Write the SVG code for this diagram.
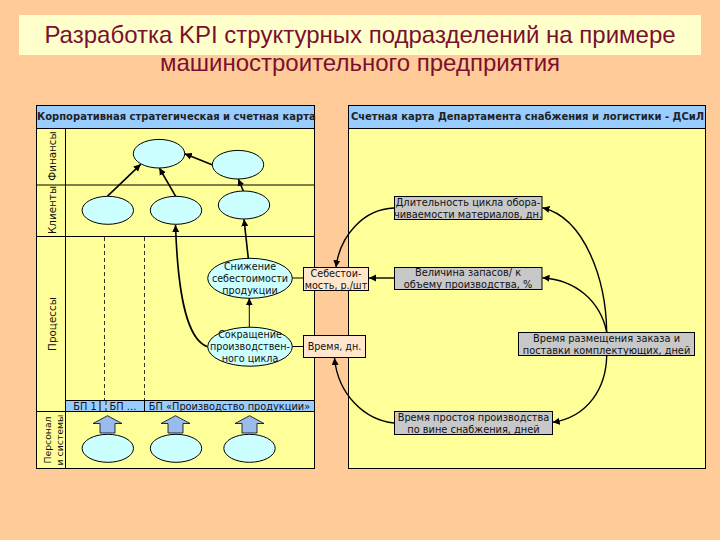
<svg xmlns="http://www.w3.org/2000/svg" width="720" height="540" viewBox="0 0 720 540">
<style>
.ln{fill:none;stroke:#000;stroke-width:1}
.panel{fill:#FFFF99;stroke:#000;stroke-width:1}
.hd{fill:#99CCFF;stroke:#000;stroke-width:1}
.el{fill:#CCFFFF;stroke:#000;stroke-width:1}
.pb{fill:#FFE6CC;stroke:#000;stroke-width:1}
.gb{fill:#C8C8C8;stroke:#000;stroke-width:1}
.up{fill:#99BBEE;stroke:#000;stroke-width:.8}
.c1{fill:none;stroke:#000;stroke-width:1.6;marker-end:url(#a)}
.c2{fill:none;stroke:#000;stroke-width:1.4;marker-end:url(#a)}
.c0{fill:none;stroke:#000;stroke-width:1}
.dash{fill:none;stroke:#000;stroke-width:.8;stroke-dasharray:4 3}
text{font-family:"DejaVu Sans","Liberation Sans",sans-serif;fill:#111;font-size:9.6px}
.m{text-anchor:middle}
.w{font-size:9.8px}
.rot{font-size:10.4px}
.rs{font-size:9.3px}
.hdt{font-size:10px;font-weight:bold;fill:#222}
.t{font-family:"Liberation Sans",Arial,sans-serif;font-size:24px;fill:#7A1030;text-anchor:middle}
</style>
<defs>
<marker id="a" markerUnits="userSpaceOnUse" markerWidth="8" markerHeight="8" refX="7" refY="4" orient="auto"><path d="M0 .5L7 4L0 7.5z" fill="#000"/></marker>
</defs>
<rect width="720" height="540" fill="#FFCC99"/>
<rect x="19" y="15" width="682" height="40" fill="#FFFFCC"/>
<text class="t" x="360" y="43">Разработка KPI структурных подразделений на примере</text>
<text class="t" x="360" y="71">машиностроительного предприятия</text>

<g id="left-panel">
<rect class="panel" x="36.5" y="105.5" width="278" height="363"/>
<rect class="hd" x="36.5" y="105.5" width="278" height="23"/>
<text class="hdt" x="37" y="120">Корпоративная стратегическая и счетная карта</text>
<path class="ln" d="M65.5 128.5V468.5M36.5 185H314.5M36.5 236.5H314.5M36.5 411.5H314.5"/>
<path class="dash" d="M104.5 237V400M144.5 237V400"/>
<rect class="hd" x="65.5" y="400.5" width="249" height="11"/>
<path class="ln" d="M100 401V411M144.5 401V411"/>
<path class="dash" d="M106 401V411"/>
<text class="m w" x="85" y="410">БП 1</text>
<text class="m w" x="123" y="410">БП …</text>
<text class="m w" x="229.5" y="410">БП «Производство продукции»</text>
<text class="m rot" transform="translate(56 156) rotate(-90)">Финансы</text>
<text class="m rot" transform="translate(56 210) rotate(-90)">Клиенты</text>
<text class="m rot" transform="translate(56 324) rotate(-90)">Процессы</text>
<text class="m rs" transform="translate(51 440) rotate(-90)">Персонал</text>
<text class="m rs" transform="translate(62.5 440) rotate(-90)">и системы</text>
</g>

<g id="right-panel">
<rect class="panel" x="348.5" y="105.5" width="357" height="363"/>
<rect class="hd" x="348.5" y="105.5" width="357" height="23"/>
<text class="hdt m" x="527.5" y="120">Счетная карта Департамента снабжения и логистики - ДСиЛ</text>
</g>

<g id="connectors">
<path class="c1" d="M107.3 196.3L140.7 164.3"/>
<path class="c1" d="M175.7 196.3L159.3 168"/>
<path class="c1" d="M212.7 165L184.7 153.7"/>
<path class="c1" d="M243.3 191L238.3 179"/>
<path class="c1" d="M207.5 346.7C188 340 178 300 175.5 225"/>
<path class="c1" d="M248.3 258.3L244 219.3"/>
<path class="c0" d="M249.3 327.3V306"/>
<path class="c2" d="M249.3 306V298.3"/>
<path class="c0" d="M292 278H303.5M292 346.5H303.5"/>
<path class="c2" d="M394 208C364 209 340 235 336 267.3"/>
<path class="c2" d="M394 278H369"/>
<path class="c2" d="M606.7 332C606 280 585 218 542.5 207.7"/>
<path class="c2" d="M606.7 332C600 300 575 280 542.5 277.7"/>
<path class="c2" d="M606.7 356C606 388 588 417 552.7 422.3"/>
<path class="c2" d="M394 423C365 420 338 395 334.5 358"/>
</g>

<g id="e1"><ellipse class="el" cx="159" cy="153.7" rx="25.7" ry="14.3"/></g>
<g id="e2"><ellipse class="el" cx="238" cy="164.7" rx="25.7" ry="14.3"/></g>
<g id="e3"><ellipse class="el" cx="107.8" cy="210.3" rx="25.7" ry="14"/></g>
<g id="e4"><ellipse class="el" cx="176" cy="210.3" rx="25.7" ry="14"/></g>
<g id="e5"><ellipse class="el" cx="244" cy="205" rx="25.7" ry="14"/></g>
<g id="e6"><ellipse class="el" cx="250" cy="278.3" rx="42.3" ry="20"/>
<text class="m" x="250" y="270">Снижение</text><text class="m" x="250" y="282">себестоимости</text><text class="m" x="250" y="294">продукции</text></g>
<g id="e7"><ellipse class="el" cx="250" cy="346.7" rx="42.3" ry="19.5"/>
<text class="m" x="250" y="338">Сокращение</text><text class="m" x="250" y="350">производствен-</text><text class="m" x="250" y="362">ного цикла</text></g>
<g id="b1"><rect class="pb" x="303.5" y="267.5" width="65" height="23"/>
<text class="m" x="336" y="277">Себестои-</text><text class="m" x="336" y="289">мость, р./шт</text></g>
<g id="b2"><rect class="pb" x="303.5" y="335.5" width="62" height="22"/>
<text class="m" x="334.5" y="350">Время, дн.</text></g>
<g id="k1"><rect class="gb" x="394.5" y="196.5" width="147.5" height="23"/>
<text class="m w" x="468" y="206">Длительность цикла обора-</text><text class="m w" x="468" y="218">чиваемости материалов, дн.</text></g>
<g id="k2"><rect class="gb" x="394.5" y="267.5" width="147.5" height="22"/>
<text class="m w" x="468" y="276">Величина запасов/ к</text><text class="m w" x="468" y="288">объему производства, %</text></g>
<g id="k3"><rect class="gb" x="518.5" y="332.5" width="176" height="23"/>
<text class="m w" x="606.5" y="342">Время размещения заказа и</text><text class="m w" x="606.5" y="354">поставки комплектующих, дней</text></g>
<g id="k4"><rect class="gb" x="394.5" y="411.5" width="158" height="23"/>
<text class="m w" x="473.5" y="421">Время простоя производства</text><text class="m w" x="473.5" y="433">по вине снабжения, дней</text></g>

<g id="u1"><ellipse class="el" cx="107.8" cy="448.3" rx="25.7" ry="14"/><path class="up" d="M107.5 415.7L122 423.5H115V433H100V423.5H93z"/></g>
<g id="u2"><ellipse class="el" cx="176" cy="448.3" rx="25.7" ry="14"/><path class="up" d="M175.5 415.7L190 423.5H183V433H168V423.5H161z"/></g>
<g id="u3"><ellipse class="el" cx="249.5" cy="448.3" rx="25.7" ry="14"/><path class="up" d="M249.5 415.7L264 423.5H257V433H242V423.5H235z"/></g>
</svg>
